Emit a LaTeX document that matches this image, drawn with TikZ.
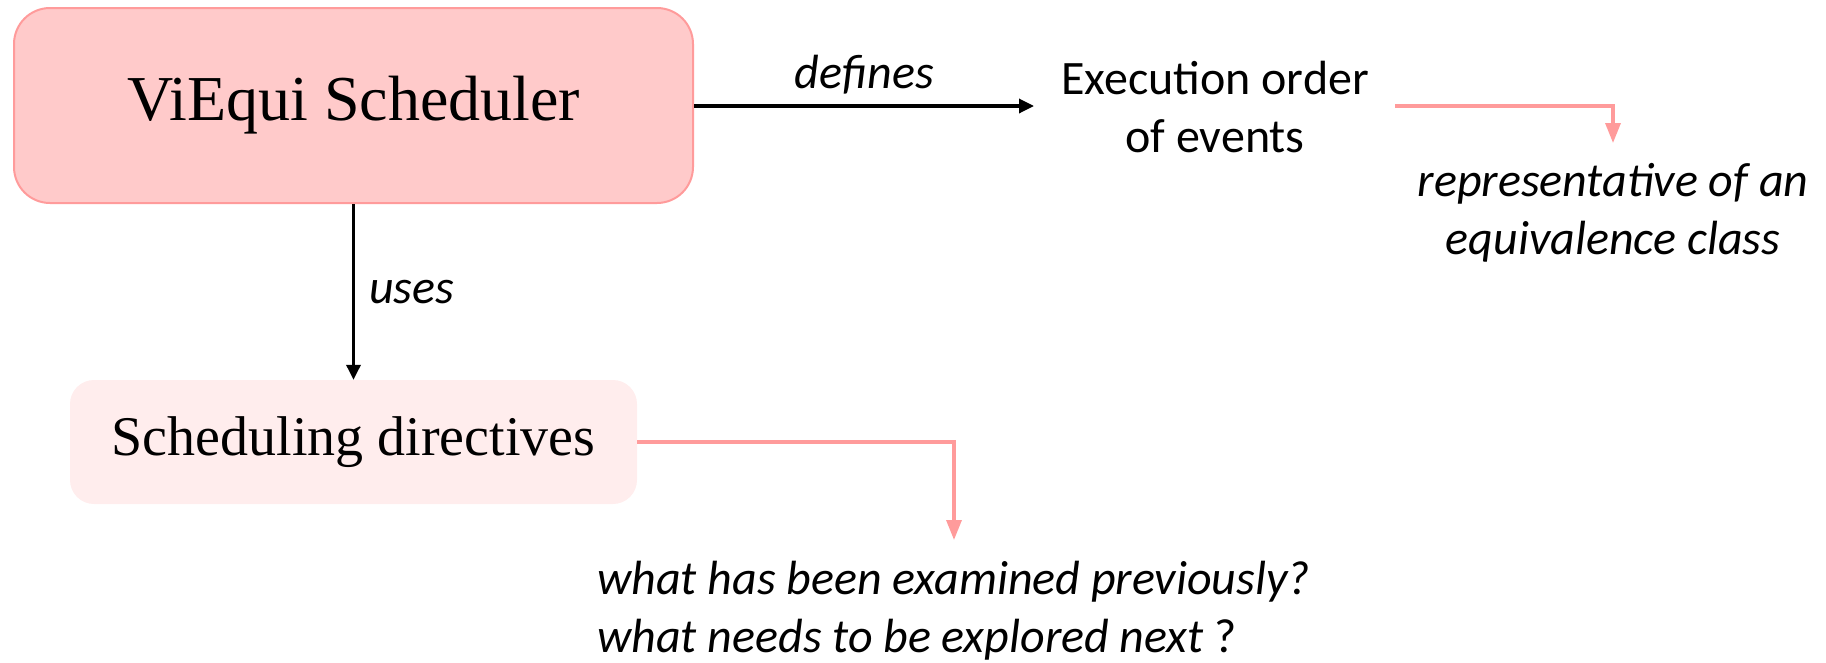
\documentclass[tikz,border=0pt]{standalone}
\usepackage{fontspec}
\setmainfont{Carlito}
\newfontfamily\boxfont{Liberation Serif}
\usetikzlibrary{arrows.meta}
\definecolor{headfill}{HTML}{FFCACA}
\definecolor{headline}{HTML}{FF9B9B}
\definecolor{softfill}{HTML}{FFEDED}
\definecolor{notepink}{HTML}{FF9B9B}
\begin{document}
\begin{tikzpicture}[x=1pt,y=-1pt,
  mainbox/.style={draw=headline,line width=2pt,fill=headfill,rounded corners=36pt,
    minimum width=679pt,minimum height=195pt,inner sep=0pt,
    font=\boxfont\fontsize{64}{70}\selectfont},
  subbox/.style={fill=softfill,rounded corners=24pt,
    minimum width=567pt,minimum height=124pt,inner sep=0pt,
    font=\boxfont\fontsize{56}{62}\selectfont},
  plain/.style={font=\fontsize{48}{58}\selectfont,inner sep=0pt,align=center},
  note/.style={font=\fontsize{48}{58}\selectfont\itshape,inner sep=0pt},
  flow/.style={line width=3.3pt,-{Triangle[length=15pt,width=14pt]}},
  pinkflow/.style={draw=notepink,line width=3.3pt,-{Triangle[length=20pt,width=15pt]}}]
\useasboundingbox (0,0) rectangle (1826,662);

\node[mainbox] (sched) at (353.5,105.5) {ViEqui Scheduler};
\node[subbox] (dir) at (353.5,442) {Scheduling directives};

\node[plain] (exec) at (1215,107) {Execution order\\of events};
\node[note,align=center] (repr) at (1613,213) {representative of an\\equivalence class};
\node[note,align=left,anchor=west] (quest) at (597,611)
  {what has been examined previously?\\what needs to be explored next \textup{?}};

\coordinate (execout) at (1395,106);
\coordinate (ereach) at (1034,106);
\draw[flow] (sched.east |- ereach) -- (ereach)
  node[midway,above=10pt,note] (deflab) {defines};
\draw[flow] (sched.south -| dir.north) -- (dir.north)
  node[midway,right=14pt,note] (uselab) {uses};

\coordinate (rtip) at (1613,143);
\draw[pinkflow] (execout) -| (rtip);
\coordinate (qtip) at (954,540);
\draw[pinkflow] (dir.east) -| (qtip);
\end{tikzpicture}
\end{document}
